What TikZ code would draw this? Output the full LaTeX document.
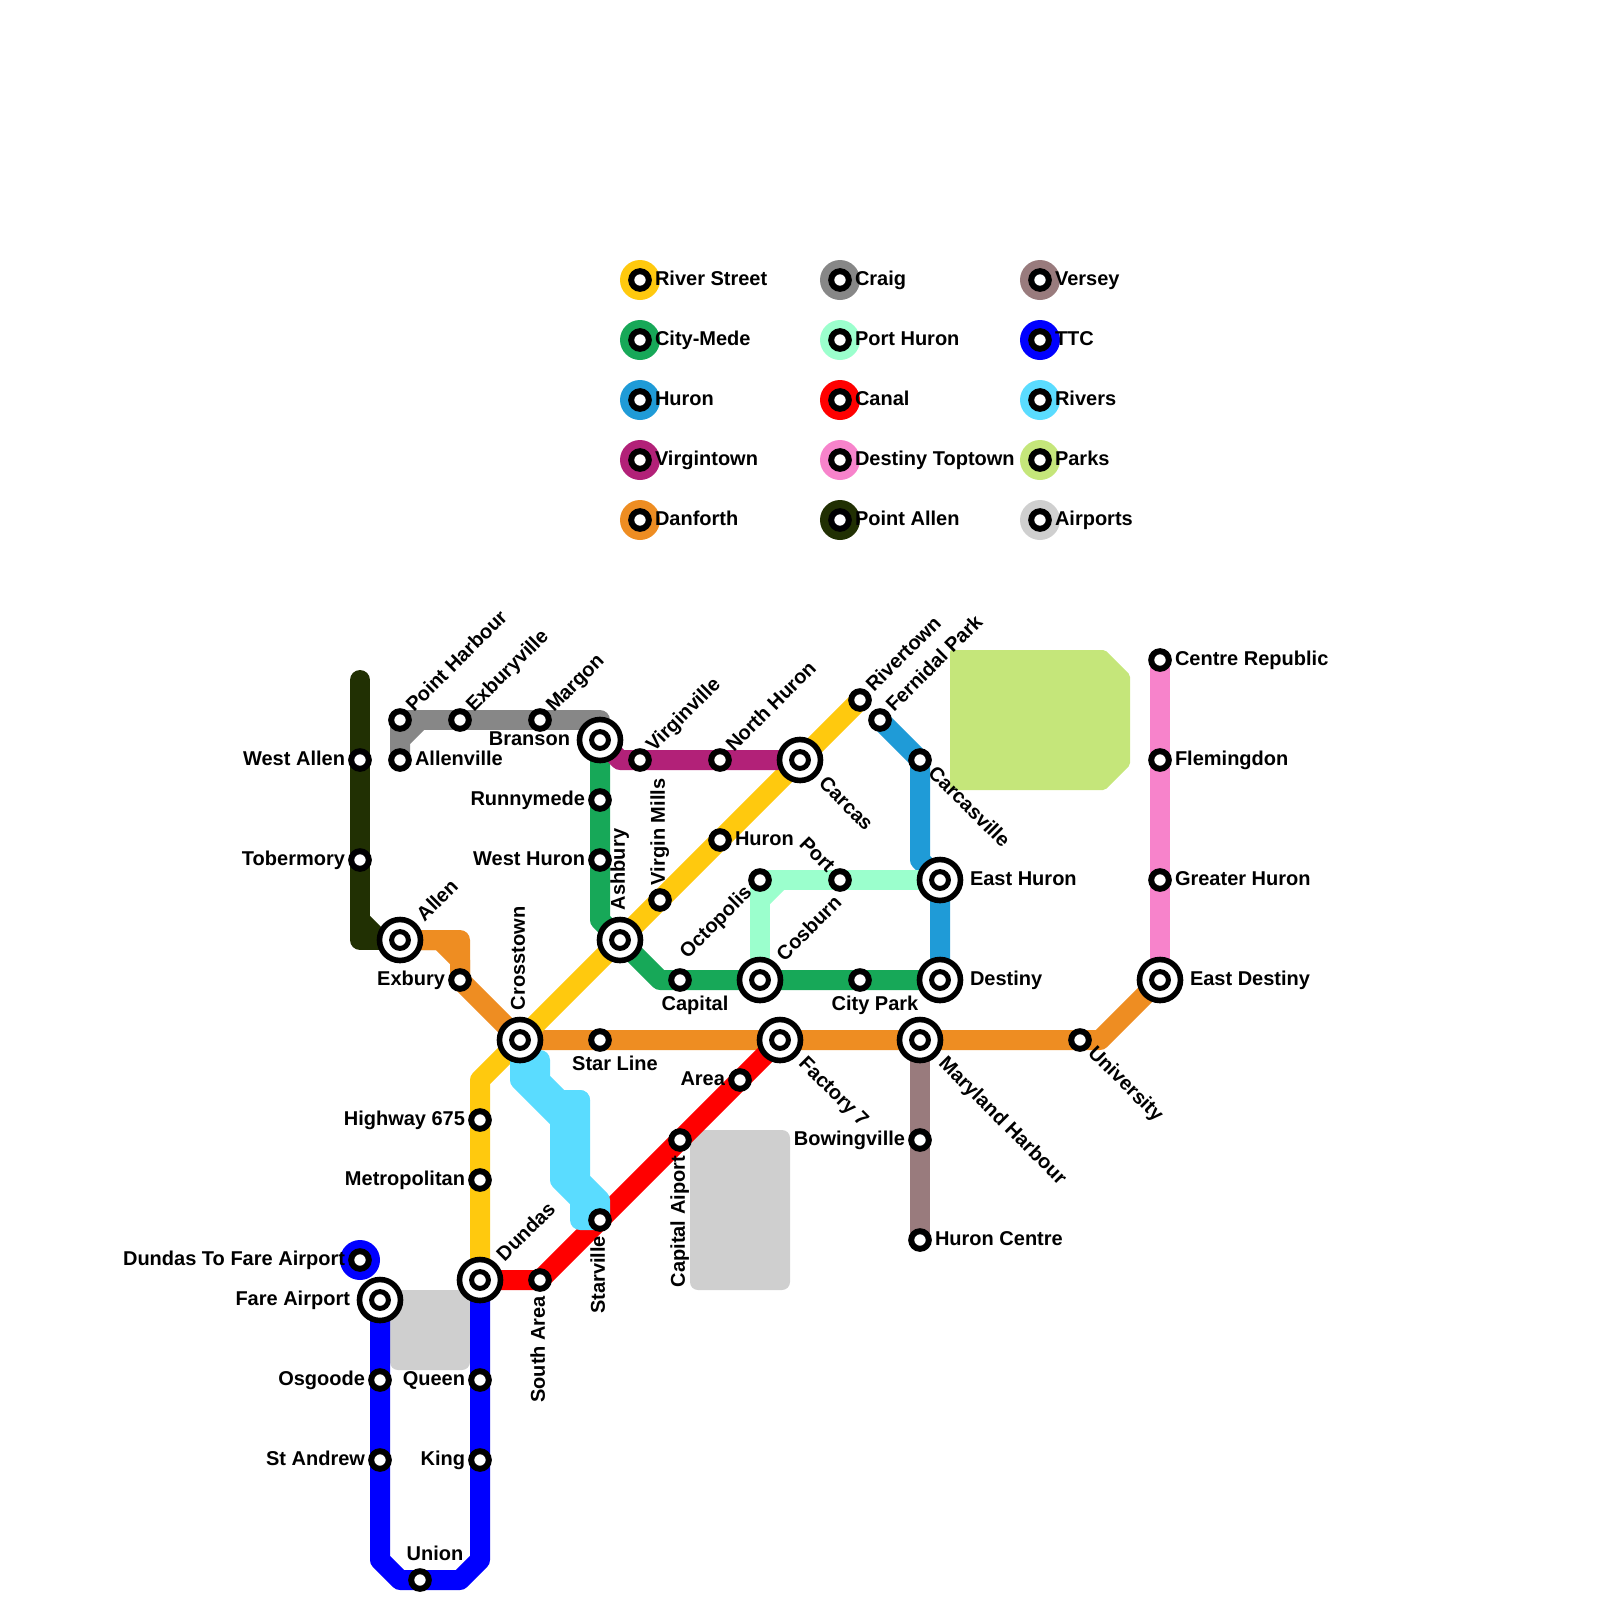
\documentclass[tikz,border=0pt]{standalone}
\usepackage{fontspec}
\setmainfont{Liberation Sans}
\usepackage{xcolor}
\definecolor{riverstreet}{RGB}{255, 201, 14}
\definecolor{citymede}{RGB}{23, 168, 88}
\definecolor{huronline}{RGB}{31, 155, 215}
\definecolor{virgintown}{RGB}{178, 33, 120}
\definecolor{danforth}{RGB}{238, 141, 34}
\definecolor{craig}{RGB}{135, 135, 135}
\definecolor{porthuron}{RGB}{155, 255, 205}
\definecolor{canal}{RGB}{255, 0, 0}
\definecolor{destinytop}{RGB}{247, 131, 203}
\definecolor{pointallen}{RGB}{33, 48, 3}
\definecolor{versey}{RGB}{153, 123, 125}
\definecolor{ttc}{RGB}{0, 0, 255}
\definecolor{rivers}{RGB}{90, 220, 255}
\definecolor{parks}{RGB}{197, 230, 122}
\definecolor{airports}{RGB}{207, 207, 207}
\usetikzlibrary{
  positioning,
  backgrounds,
  calc
}
\tikzset{
  metro/.style={line width=0.5cm, line cap=round, line join=round},
  stn/.style={circle, draw=black, line width=0.15cm, fill=white, minimum size=0.44cm, inner sep=0pt},
  hubdot/.style={circle, draw=black, line width=0.125cm, fill=white, minimum size=0.42cm, inner sep=0pt},
  hub/.style={circle, draw=black, line width=0.14cm, fill=white, minimum size=1.025cm, inner sep=0pt},
  disc/.style={circle, minimum size=1cm, inner sep=0pt},
  lbl/.style={font=\fontsize{14.23pt}{16pt}\selectfont\bfseries, inner sep=0pt, outer sep=0pt, text=black}
}
\begin{document}
\begin{tikzpicture}[x=0.5cm, y=-0.5cm]

  \useasboundingbox (0,0) rectangle (80,80);

  % ---------- LEGEND ----------
  \foreach \id/\col/\x/\y/\txt in {
    river/riverstreet/32/14/River Street, mede/citymede/32/17/City-Mede, hur/huronline/32/20/Huron,
    virg/virgintown/32/23/Virgintown, danf/danforth/32/26/Danforth,
    crg/craig/42/14/Craig, phur/porthuron/42/17/Port Huron, cnl/canal/42/20/Canal,
    dest/destinytop/42/23/Destiny Toptown, ptal/pointallen/42/26/Point Allen,
    vers/versey/52/14/Versey, tc/ttc/52/17/TTC, rvrs/rivers/52/20/Rivers,
    prk/parks/52/23/Parks, airp/airports/52/26/Airports} {
    \node[disc, fill=\col] (\id-disc) at (\x,\y) {};
    \node[stn] (\id-dot) at (\x,\y) {};
    \node[lbl, anchor=base west] (\id-lab) at ($(\x,\y)+(0.75,0.25)$) {\txt};
  }

  % ---------- STATIONS ----------
  \node[disc, fill=ttc] (farelink-disc) at (18,63) {};

  \foreach \id/\x/\y in {
    westallen/18/38, tobermory/18/43, pointharbour/20/36, allenville/20/38, exburyville/23/36,
    margon/27/36, runnymede/30/40, westhuron/30/43, virginville/32/38, northhuron/36/38,
    virginmills/33/45, huron/36/42, rivertown/43/35, fernidal/44/36, carcasville/46/38,
    octopolis/38/44, port/42/44, capital/34/49, citypark/43/49, exbury/23/49, starline/30/52,
    area/37/54, capitalaiport/34/57, starville/30/61, southarea/27/64, highway/24/56,
    metropolitan/24/59, bowingville/46/57, huroncentre/46/62, university/54/52,
    centrerepublic/58/33, flemingdon/58/38, greaterhuron/58/44, farelink/18/63,
    osgoode/19/69, standrew/19/73, queen/24/69, king/24/73, union/21/79} {
    \node[stn] (\id) at (\x,\y) {};
  }

  % interchanges get a second ring
  \foreach \id/\x/\y in {
    branson/30/37, allen/20/47, ashbury/31/47, crosstown/26/52, carcas/40/38, easthuron/47/44,
    destiny/47/49, cosburn/38/49, factory/39/52, maryland/46/52, eastdestiny/58/49,
    dundas/24/64, fareairport/19/65} {
    \node[hub] (\id) at (\x,\y) {};
    \node[hubdot] (\id-in) at (\x,\y) {};
  }

  % ---------- LINES ----------
  \begin{scope}[on background layer]
    % parks and airports
    \fill[parks, rounded corners=0.05cm] (47.5,32.5) -- (55.25,32.5) -- (56.5,33.75) -- (56.5,38.25)
      -- (55.25,39.5) -- (47.5,39.5) -- cycle;
    \fill[airports, rounded corners=0.2cm] (34.5,56.5) rectangle (39.5,64.5);
    \fill[airports, rounded corners=0.2cm] (19.5,64.5) rectangle (23.5,68.5);

    % point allen
    \draw[metro, pointallen] (18,34) -- (westallen.center) -- (tobermory.center) -- (18,47) -- (allen.center);
    \draw[metro, pointallen] (18,46) -- (19,47);

    % craig
    \draw[metro, craig] (pointharbour.center) -- (exburyville.center) -- (margon.center) -- (30,36) -- (branson.center);
    \draw[metro, craig] (pointharbour.center) -- (allenville.center);
    \draw[metro, craig] (allenville.center) -- (20,37) -- (21,36);

    % danforth
    \draw[metro, danforth] (allen.center) -- (23,47) -- (exbury.center) -- (crosstown.center);
    \draw[metro, danforth] (allen.center) -- (22,47) -- (23,48) -- (exbury.center);
    \draw[metro, danforth] (crosstown.center) -- (starline.center) -- (factory.center) -- (maryland.center)
      -- (university.center) -- (55,52) -- (eastdestiny.center);

    % river street
    \draw[metro, riverstreet] (rivertown.center) -- (carcas.center) -- (huron.center) -- (virginmills.center)
      -- (ashbury.center) -- (crosstown.center) -- (24,54) -- (highway.center) -- (metropolitan.center) -- (dundas.center);

    % city-mede
    \draw[metro, citymede] (branson.center) -- (runnymede.center) -- (westhuron.center) -- (30,46) -- (ashbury.center)
      -- (33,49) -- (capital.center) -- (cosburn.center) -- (citypark.center) -- (destiny.center);

    % virgintown
    \draw[metro, virgintown] (branson.center) -- (31,38) -- (virginville.center) -- (northhuron.center) -- (carcas.center);

    % huron
    \draw[metro, huronline] (fernidal.center) -- (carcasville.center) -- (46,43) -- (easthuron.center) -- (destiny.center);

    % port huron
    \draw[metro, porthuron] (cosburn.center) -- (octopolis.center) -- (port.center) -- (easthuron.center);
    \draw[metro, porthuron] (38,45) -- (39,44);

    % destiny toptown
    \draw[metro, destinytop] (centrerepublic.center) -- (flemingdon.center) -- (greaterhuron.center) -- (eastdestiny.center);

    % versey
    \draw[metro, versey] (maryland.center) -- (bowingville.center) -- (huroncentre.center);

    % ttc
    \draw[metro, ttc] (fareairport.center) -- (osgoode.center) -- (standrew.center) -- (19,78) -- (20,79)
      -- (union.center) -- (23,79) -- (24,78) -- (king.center) -- (queen.center) -- (dundas.center);

    % canal
    \draw[metro, canal] (dundas.center) -- (southarea.center) -- (starville.center) -- (capitalaiport.center)
      -- (area.center) -- (factory.center);

    % rivers
    \draw[metro, rivers] (crosstown.center) -- (26,54) -- (28,56) -- (28,59) -- (29,60) -- (29,61) -- (starville.center);
    \draw[metro, rivers] (crosstown.center) -- (26,53) -- (27,53) -- (27,54) -- (28,55) -- (29,55) -- (29,59)
      -- (30,60) -- (starville.center);
    \draw[metro, rivers] (27,54) -- (28,56) -- (29,55);
  \end{scope}

  % ---------- LABELS ----------
  % left of the station
  \foreach \id/\txt in {
    westallen/West Allen, tobermory/Tobermory, runnymede/Runnymede, westhuron/West Huron,
    exbury/Exbury, area/Area, bowingville/Bowingville, highway/Highway 675,
    metropolitan/Metropolitan, farelink/Dundas To Fare Airport, osgoode/Osgoode,
    standrew/St Andrew, queen/Queen, king/King} {
    \node[lbl, anchor=base east] (\id-lab) at ($(\id)+(-0.75,0.25)$) {\txt};
  }
  \foreach \id/\txt in {branson/Branson, fareairport/Fare Airport} {
    \node[lbl, anchor=base east] (\id-lab) at ($(\id)+(-1.5,0.25)$) {\txt};
  }

  % right of the station
  \foreach \id/\txt in {
    allenville/Allenville, huron/Huron, huroncentre/Huron Centre, centrerepublic/Centre Republic,
    flemingdon/Flemingdon, greaterhuron/Greater Huron} {
    \node[lbl, anchor=base west] (\id-lab) at ($(\id)+(0.75,0.25)$) {\txt};
  }
  \foreach \id/\txt in {easthuron/East Huron, destiny/Destiny, eastdestiny/East Destiny} {
    \node[lbl, anchor=base west] (\id-lab) at ($(\id)+(1.5,0.25)$) {\txt};
  }

  % below and above
  \foreach \id/\txt in {starline/Star Line, capital/Capital, citypark/City Park} {
    \node[lbl, anchor=base] (\id-lab) at ($(\id)+(0.75,1.5)$) {\txt};
  }
  \node[lbl, anchor=base] (union-lab) at ($(union)+(0.75,-1)$) {Union};

  % rising at 45 degrees
  \foreach \id/\txt in {
    pointharbour/Point Harbour, exburyville/Exburyville, margon/Margon, virginville/Virginville,
    northhuron/North Huron, rivertown/Rivertown, fernidal/Fernidal Park} {
    \node[lbl, rotate=45, anchor=base west] (\id-lab) at ($(\id)+(-45:0.75)+(45:0.24)$) {\txt};
  }
  \foreach \id/\txt in {allen/Allen, cosburn/Cosburn, dundas/Dundas} {
    \node[lbl, rotate=45, anchor=base west] (\id-lab) at ($(\id)+(-45:1.5)+(45:0.24)$) {\txt};
  }
  \node[lbl, rotate=45, anchor=base east] (octopolis-lab) at ($(octopolis)+(135:0.75)+(45:0.24)$) {Octopolis};

  % falling at 45 degrees
  \node[lbl, rotate=-45, anchor=base west] (carcasville-lab) at ($(carcasville)+(45:0.75)+(135:0.24)$) {Carcasville};
  \node[lbl, rotate=-45, anchor=base west] (university-lab) at ($(university)+(45:0.75)+(135:0.24)$) {University};
  \foreach \id/\txt in {carcas/Carcas, factory/Factory 7, maryland/Maryland Harbour} {
    \node[lbl, rotate=-45, anchor=base west] (\id-lab) at ($(\id)+(45:1.5)+(135:0.24)$) {\txt};
  }
  \node[lbl, rotate=-45, anchor=base east] (port-lab) at ($(port)+(-135:0.7)+(135:0.24)$) {Port};

  % vertical
  \node[lbl, rotate=90, anchor=base west] (virginmills-lab) at ($(virginmills)+(0.24,-0.75)$) {Virgin Mills};
  \foreach \id/\txt in {crosstown/Crosstown, ashbury/Ashbury} {
    \node[lbl, rotate=90, anchor=base west] (\id-lab) at ($(\id)+(0.24,-1.5)$) {\txt};
  }
  \foreach \id/\txt in {southarea/South Area, starville/Starville, capitalaiport/Capital Aiport} {
    \node[lbl, rotate=90, anchor=base east] (\id-lab) at ($(\id)+(0.24,0.8)$) {\txt};
  }

\end{tikzpicture}
\end{document}
